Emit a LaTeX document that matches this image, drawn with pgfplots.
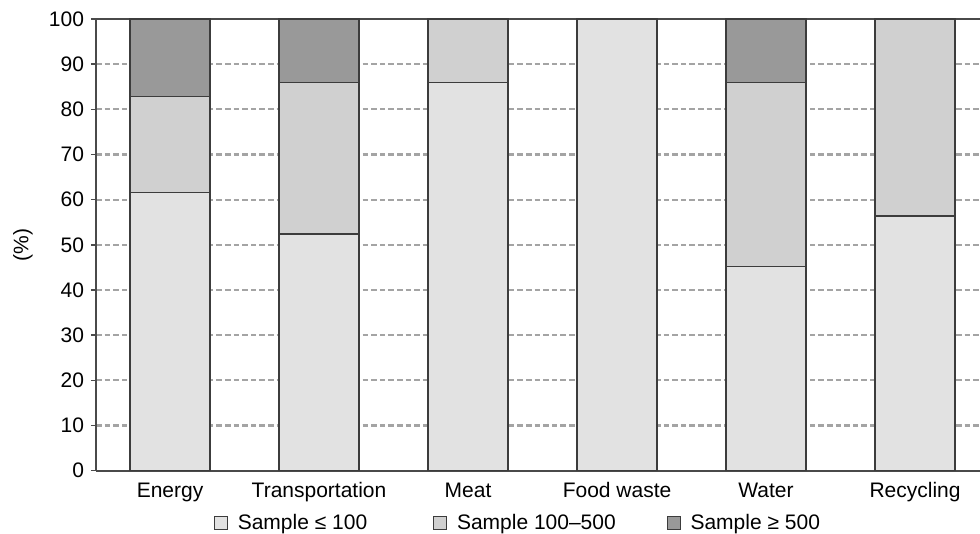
\documentclass[border=0pt]{standalone}
\usepackage{pgfplots}
\pgfplotsset{compat=1.18}
\usepackage{fontspec}
\setmainfont{Liberation Sans}
\definecolor{cA}{HTML}{E2E2E2}
\definecolor{cB}{HTML}{D0D0D0}
\definecolor{cC}{HTML}{999999}
\definecolor{barline}{HTML}{3C3C3C}
\definecolor{axline}{HTML}{4A4A4A}
\definecolor{gridc}{HTML}{A4A4A4}
\begin{document}
\begin{tikzpicture}
\begin{axis}[
  scale only axis,
  width=442bp, height=225.85bp,
  xmin=-0.497, xmax=5.436,
  ymin=0, ymax=100,
  ytick={0,10,...,100},
  xtick=data,
  xticklabels={Energy,Transportation,Meat,Food waste,Water,Recycling},
  xtick style={draw=none},
  ytick pos=left,
  tick align=outside,
  major tick length=2.5bp,
  ytick style={axline, line width=0.75bp},
  axis x line*=box,
  axis y line*=left,
  axis line style={axline, line width=0.8bp, -},
  ymajorgrids,
  major grid style={gridc, line width=1.1bp, dash pattern=on 2.8bp off 1.5bp},
  font=\fontsize{10.5bp}{12.6bp}\selectfont,
  ticklabel style={font=\fontsize{10.5bp}{12.6bp}\selectfont},
  /pgf/number format/assume math mode=true,
  ylabel={(\%)},
  every axis y label/.style={at={(axis description cs:-0.0826,0.5)}, rotate=90, anchor=center},
  ybar stacked,
  bar width=40bp,
  legend columns=3,
  legend style={draw=none, fill=none, inner sep=0pt, outer sep=0pt,
    at={(axis description cs:0.1335,-0.1158)}, anchor=west,
    font=\fontsize{10.5bp}{12.6bp}\selectfont,
    /tikz/every odd column/.style={column sep=3bp},
    /tikz/column 2/.style={column sep=31bp},
    /tikz/column 4/.style={column sep=23.5bp}},
  legend image code/.code={\draw[#1, draw=barline, line width=0.5bp] (0bp,-3.2bp) rectangle (6.4bp,3.2bp);},
]
\addplot[fill=cA, draw=barline, line width=0.65bp] coordinates {(0,61.6) (1,52.4) (2,85.9) (3,100) (4,45.2) (5,56.4)};
\addplot[fill=cB, draw=barline, line width=0.65bp] coordinates {(0,21.2) (1,33.5) (2,14.1) (3,0) (4,40.7) (5,43.6)};
\addplot[fill=cC, draw=barline, line width=0.65bp] coordinates {(0,17.2) (1,14.1) (2,0) (3,0) (4,14.1) (5,0)};
\legend{Sample ≤ 100, Sample 100–500, Sample ≥ 500}
\end{axis}
\pgfresetboundingbox
\path (current axis.south west) ++(-48bp,-31.65bp) rectangle ++(490bp,267bp);
\end{tikzpicture}
\end{document}
